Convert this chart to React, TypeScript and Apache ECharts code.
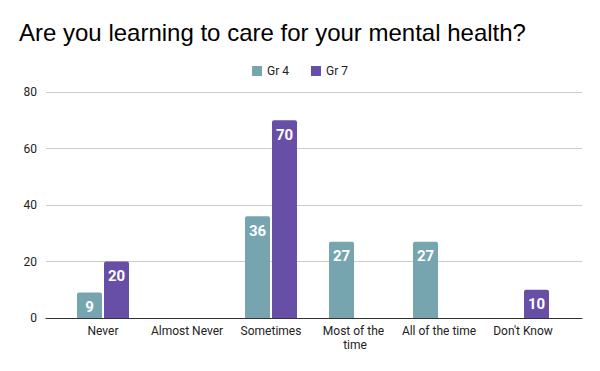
import React, { useEffect, useRef } from "react";
import * as echarts from "echarts";

const categories = ["Never", "Almost Never", "Sometimes", "Most of the time", "All of the time", "Don't Know"];
const gr4 = [9, null, 36, 27, 27, null];
const gr7 = [20, null, 70, null, null, 10];
const seriesNames = ["Gr 4", "Gr 7"];
const colors = ["#76a5af", "#674ea7"];

export default function App() {
  const ref = useRef<HTMLDivElement>(null);
  useEffect(() => {
    const chart = echarts.init(ref.current!, null, { renderer: "svg" });
    const label = {
      show: true,
      position: "insideTop",
      distance: 7,
      color: "#ffffff",
      fontWeight: "bold",
      fontSize: 15,
      fontFamily: "Roboto",
    };
    chart.setOption({
      animation: false,
      backgroundColor: "#ffffff",
      title: {
        text: "Are you learning to care for your mental health?",
        left: 14,
        top: 15,
        textStyle: { fontSize: 24, fontWeight: "normal", color: "#000", fontFamily: "Liberation Sans" },
      },
      legend: {
        top: 60,
        left: "center",
        itemWidth: 10,
        itemHeight: 10,
        itemGap: 22,
        icon: "rect",
        data: seriesNames,
        textStyle: { fontSize: 12, color: "#222", fontFamily: "Roboto" },
      },
      grid: [
        { left: 46, right: 18, top: 92, bottom: 53 },
        { left: 61, right: 35, top: 92, bottom: 53 },
      ],
      xAxis: [
        {
          type: "value",
          gridIndex: 0,
          min: 0,
          max: 1,
          axisLine: { show: true, lineStyle: { color: "#333", width: 1 } },
          axisTick: { show: false },
          axisLabel: { show: false },
          splitLine: { show: false },
        },
        {
          type: "category",
          gridIndex: 1,
          data: categories,
          axisLine: { show: false },
          axisTick: { show: false },
          axisLabel: {
            color: "#222",
            fontSize: 12,
            fontFamily: "Roboto",
            margin: 6,
            interval: 0,
            width: 86,
            overflow: "break",
            lineHeight: 14,
          },
        },
      ],
      yAxis: [
        {
          type: "value",
          gridIndex: 0,
          min: 0,
          max: 80,
          interval: 20,
          axisLine: { show: false },
          axisTick: { show: false },
          axisLabel: { color: "#222", fontSize: 12, fontFamily: "Roboto", margin: 9 },
          splitLine: { lineStyle: { color: "#cccccc", width: 1 } },
        },
        {
          type: "value",
          gridIndex: 1,
          min: 0,
          max: 80,
          interval: 20,
          show: false,
          splitLine: { show: false },
        },
      ],
      series: [
        {
          name: seriesNames[0],
          type: "bar",
          xAxisIndex: 1,
          yAxisIndex: 1,
          data: gr4,
          barWidth: 25,
          barGap: "8%",
          itemStyle: { color: colors[0], borderRadius: [2, 2, 0, 0] },
          label,
        },
        {
          name: seriesNames[1],
          type: "bar",
          xAxisIndex: 1,
          yAxisIndex: 1,
          data: gr7,
          barWidth: 25,
          barGap: "8%",
          itemStyle: { color: colors[1], borderRadius: [2, 2, 0, 0] },
          label,
        },
      ],
    });
    return () => chart.dispose();
  }, []);
  return <div ref={ref} style={{ width: 600, height: 371, position: "absolute", left: 0, top: 0 }} />;
}
